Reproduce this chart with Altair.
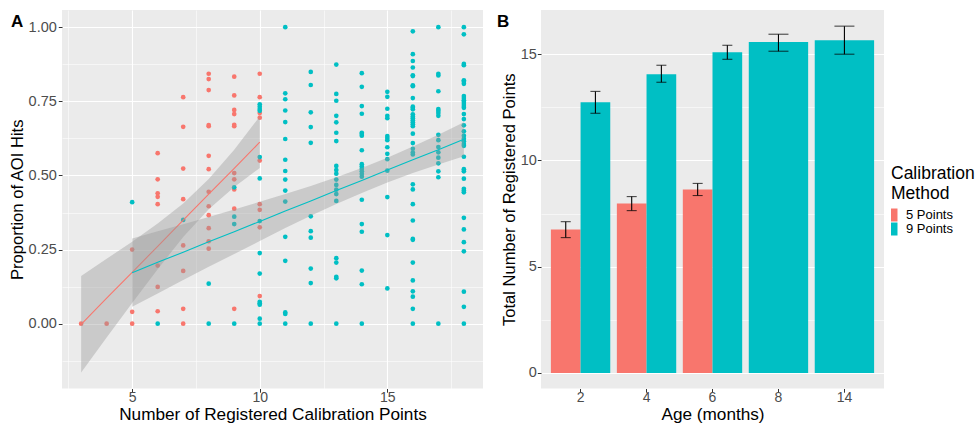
import altair as alt
import pandas as pd

FONT = "Liberation Sans"
RED = "#F8766D"
TEAL = "#00BFC4"
METHODS = ["5 Points", "9 Points"]

# ---------------- Panel A data ----------------
five_pt_hits = {
    3: [0.0],
    4: [0.0],
    5: [0.25, 0.04, 0.0],
    6: [0.575, 0.487, 0.44, 0.428, 0.403, 0.196, 0.124, 0.042],
    7: [0.764, 0.664, 0.523, 0.42, 0.264, 0.178, 0.05, 0.0],
    8: [0.843, 0.825, 0.788, 0.67, 0.666, 0.566, 0.521, 0.445, 0.396, 0.366, 0.322, 0.278, 0.253],
    9: [0.833, 0.77, 0.721, 0.707, 0.671, 0.666, 0.508, 0.487, 0.453, 0.388, 0.05],
    10: [0.843, 0.764, 0.711, 0.695, 0.55, 0.403, 0.384, 0.325, 0.093],
}
nine_pt_hits = {
    5: [0.41],
    6: [0.0],
    7: [0.35],
    8: [0.135, 0.0],
    9: [0.46, 0.361, 0.336, 0.0],
    10: [0.74, 0.732, 0.724, 0.718, 0.562, 0.49, 0.346, 0.238, 0.169, 0.074, 0.069, 0.064, 0.017, 0.0],
    11: [1.0, 0.777, 0.757, 0.719, 0.68, 0.623, 0.553, 0.515, 0.486, 0.449, 0.412, 0.293, 0.212, 0.038, 0.033, 0.0],
    12: [0.849, 0.805, 0.713, 0.663, 0.61, 0.362, 0.312, 0.29, 0.186, 0.137, 0.0],
    13: [0.874, 0.775, 0.752, 0.701, 0.679, 0.644, 0.616, 0.532, 0.518, 0.506, 0.486, 0.468, 0.452,
         0.437, 0.414, 0.221, 0.206, 0.158, 0.153, 0.0],
    14: [0.845, 0.799, 0.734, 0.708, 0.644, 0.64, 0.634, 0.585, 0.538, 0.53, 0.522, 0.514, 0.505,
         0.496, 0.418, 0.336, 0.31, 0.179, 0.133, 0.0],
    15: [0.782, 0.765, 0.725, 0.701, 0.693, 0.633, 0.626, 0.619, 0.595, 0.573, 0.555, 0.516, 0.427,
         0.299, 0.119],
    16: [0.986, 0.909, 0.886, 0.864, 0.838, 0.835, 0.804, 0.801, 0.761, 0.732, 0.728, 0.723, 0.706,
         0.699, 0.693, 0.686, 0.679, 0.673, 0.666, 0.641, 0.609, 0.59, 0.577, 0.571, 0.47, 0.453,
         0.403, 0.348, 0.286, 0.283, 0.206, 0.146, 0.109, 0.091, 0.05, 0.0],
    17: [1.0, 0.843, 0.837, 0.784, 0.724, 0.718, 0.711, 0.701, 0.637, 0.619, 0.596, 0.578, 0.56,
         0.541, 0.514, 0.494, 0.0],
    18: [1.0, 0.976, 0.876, 0.872, 0.821, 0.816, 0.809, 0.768, 0.761, 0.754, 0.748, 0.741, 0.734,
         0.728, 0.707, 0.69, 0.669, 0.649, 0.634, 0.624, 0.615, 0.606, 0.6, 0.563, 0.521, 0.514,
         0.489, 0.455, 0.449, 0.443, 0.357, 0.318, 0.275, 0.244, 0.108, 0.057, 0.0],
}

# linear fits and confidence bands
fit5_x = [3, 4, 5, 6, 7, 8, 9, 10]
fit5_y = [-0.002, 0.086, 0.173, 0.261, 0.349, 0.437, 0.524, 0.612]
fit5_lo = [-0.165, -0.047, 0.070, 0.184, 0.292, 0.386, 0.461, 0.525]
fit5_hi = [0.161, 0.219, 0.276, 0.338, 0.405, 0.488, 0.587, 0.699]

fit9_x = [5, 6, 7, 8, 9, 10, 11, 12, 13, 14, 15, 16, 17, 18]
fit9_y = [0.172, 0.207, 0.241, 0.276, 0.310, 0.345, 0.380, 0.414, 0.449, 0.483, 0.518, 0.553, 0.587, 0.622]
fit9_lo = [0.057, 0.102, 0.147, 0.192, 0.235, 0.279, 0.323, 0.364, 0.404, 0.441, 0.476, 0.508, 0.537, 0.565]
fit9_hi = [0.287, 0.312, 0.335, 0.360, 0.385, 0.411, 0.437, 0.464, 0.494, 0.525, 0.560, 0.598, 0.637, 0.679]

# ---------------- Panel B data ----------------
ages = ["2", "4", "6", "8", "14"]
five_ages = ["2", "4", "6"]
five_mean = [6.75, 7.97, 8.63]
five_lo = [6.37, 7.64, 8.35]
five_hi = [7.12, 8.30, 8.92]
nine_mean = [12.74, 14.06, 15.09, 15.57, 15.66]
nine_lo = [12.22, 13.68, 14.76, 15.14, 15.00]
nine_hi = [13.25, 14.48, 15.42, 15.94, 16.32]

# ---------------- frames ----------------
rows = []
for method, table in (("5 Points", five_pt_hits), ("9 Points", nine_pt_hits)):
    for x, ys in table.items():
        for y in ys:
            rows.append({"points": x, "hits": y, "method": method})
scatter_df = pd.DataFrame(rows)
fit5_df = pd.DataFrame({"points": fit5_x, "fit": fit5_y, "lo": fit5_lo, "hi": fit5_hi})
fit9_df = pd.DataFrame({"points": fit9_x, "fit": fit9_y, "lo": fit9_lo, "hi": fit9_hi})

grouped_rows = []
for i, a in enumerate(five_ages):
    grouped_rows.append({"age": a, "method": "5 Points", "mean": five_mean[i], "lo": five_lo[i], "hi": five_hi[i]})
    grouped_rows.append({"age": a, "method": "9 Points", "mean": nine_mean[i], "lo": nine_lo[i], "hi": nine_hi[i]})
grouped_df = pd.DataFrame(grouped_rows)
single_df = pd.DataFrame({
    "age": ages[3:], "method": ["9 Points"] * 2,
    "mean": nine_mean[3:], "lo": nine_lo[3:], "hi": nine_hi[3:],
})

# ---------------- styling helpers ----------------
LABEL_COLOR = "#4D4D4D"
PLOT_H = 378.5


def axis_common(**kw):
    base = dict(
        domain=False, labelFont=FONT, titleFont=FONT, labelFontSize=14, titleFontSize=17.2,
        labelColor=LABEL_COLOR, titleColor="#000000", titleFontWeight="normal",
        tickColor="#333333", tickSize=3.7, tickWidth=1, gridColor="#FFFFFF",
    )
    base.update(kw)
    return alt.Axis(**base)


color_scale = alt.Scale(domain=METHODS, range=[RED, TEAL])

# ---------------- Panel A ----------------
x_a = alt.X(
    "points:Q",
    scale=alt.Scale(domain=[2.25, 18.75], nice=False, zero=False),
    axis=axis_common(
        title="Number of Registered Calibration Points",
        values=[2.5, 5, 7.5, 10, 12.5, 15, 17.5],
        labelExpr="datum.value % 5 === 0 ? datum.label : ''",
        gridWidth={"condition": {"test": "datum.value % 5 !== 0", "value": 0.55}, "value": 1.1},
        tickOpacity={"condition": {"test": "datum.value % 5 !== 0", "value": 0}, "value": 1},
        labelPadding=-2, titlePadding=1,
    ),
)
minor_a = "abs(datum.value * 4 - round(datum.value * 4)) > 0.01"
y_a_scale = alt.Scale(domain=[-0.2186, 1.058], nice=False, zero=False)
y_a = alt.Y(
    "hits:Q",
    scale=y_a_scale,
    axis=axis_common(
        title="Proportion of AOI Hits",
        titleFontSize=16.6,
        labelFontSize=14.5,
        values=[-0.125, 0, 0.125, 0.25, 0.375, 0.5, 0.625, 0.75, 0.875, 1.0],
        format=".2f",
        labelExpr=f"{minor_a} ? '' : datum.label",
        gridWidth={"condition": {"test": minor_a, "value": 0.55}, "value": 1.1},
        tickOpacity={"condition": {"test": minor_a, "value": 0}, "value": 1},
        labelPadding=2, titlePadding=3,
    ),
)

points = alt.Chart(scatter_df).mark_circle(size=22, opacity=1).encode(
    x=x_a, y=y_a, color=alt.Color("method:N", scale=color_scale, legend=None)
)


def band(df):
    return alt.Chart(df).mark_area(color="#999999", opacity=0.4).encode(
        x="points:Q", y=alt.Y("lo:Q"), y2="hi:Q"
    )


def fit_line(df, col):
    return alt.Chart(df).mark_line(color=col, strokeWidth=1.1).encode(x="points:Q", y="fit:Q")


label_a = alt.Chart(pd.DataFrame({"t": ["A"]})).mark_text(
    font=FONT, fontSize=17, fontWeight="bold", align="left", baseline="alphabetic", color="#000000"
).encode(x=alt.value(-51), y=alt.value(17), text="t:N")

panel_a = alt.layer(
    points, band(fit5_df), fit_line(fit5_df, RED), band(fit9_df), fit_line(fit9_df, TEAL), label_a
).properties(width=421, height=PLOT_H)

# ---------------- Panel B ----------------
x_b = alt.X(
    "age:N",
    sort=ages,
    scale=alt.Scale(domain=ages, paddingInner=0.1, paddingOuter=0.15),
    axis=axis_common(title="Age (months)", labelAngle=0, bandPosition=0.5, gridWidth=1.1,
                     labelPadding=-2, titlePadding=1),
)
minor_b = "datum.value % 5 !== 0"
y_b_scale = alt.Scale(domain=[-0.73, 17.08], nice=False, zero=False)
y_b = alt.Y(
    "mean:Q",
    scale=y_b_scale,
    axis=axis_common(
        title="Total Number of Registered Points",
        titleFontSize=16.6,
        labelFontSize=14.5,
        values=[0, 2.5, 5, 7.5, 10, 12.5, 15],
        labelExpr=f"{minor_b} ? '' : datum.label",
        gridWidth={"condition": {"test": minor_b, "value": 0.55}, "value": 1.1},
        tickOpacity={"condition": {"test": minor_b, "value": 0}, "value": 1},
        labelPadding=1, titlePadding=3,
    ),
)
x_off = alt.XOffset("method:N", scale=alt.Scale(domain=METHODS, paddingInner=0, paddingOuter=0))
color_b = alt.Color(
    "method:N",
    scale=color_scale,
    legend=alt.Legend(
        title=["Calibration", "Method"], orient="none", legendX=350, legendY=155,
        titleFont=FONT, titleFontSize=17.5, titleFontWeight="normal", titleColor="#000000",
        titleLineHeight=20, titlePadding=6,
        labelFont=FONT, labelFontSize=13, labelColor="#000000", labelOffset=2,
        symbolType="M-1,-1H0V1H-1Z", symbolSize=169, symbolStrokeWidth=0,
        symbolOpacity=1, rowPadding=0, padding=0,
    ),
)

bars_grouped = alt.Chart(grouped_df).mark_bar().encode(x=x_b, xOffset=x_off, y=y_b, color=color_b)
bars_single = alt.Chart(single_df).mark_bar().encode(x=x_b, y="mean:Q", color=color_b)

err_kw = dict(color="#000000")
rule_grouped = alt.Chart(grouped_df).mark_rule(strokeWidth=1.1, **err_kw).encode(
    x=x_b, xOffset=x_off, y="lo:Q", y2="hi:Q"
)
cap_lo_g = alt.Chart(grouped_df).mark_tick(size=10, thickness=1.1, **err_kw).encode(x=x_b, xOffset=x_off, y="lo:Q")
cap_hi_g = alt.Chart(grouped_df).mark_tick(size=10, thickness=1.1, **err_kw).encode(x=x_b, xOffset=x_off, y="hi:Q")
rule_single = alt.Chart(single_df).mark_rule(strokeWidth=1.1, **err_kw).encode(x=x_b, y="lo:Q", y2="hi:Q")
cap_lo_s = alt.Chart(single_df).mark_tick(size=20, thickness=1.1, **err_kw).encode(x=x_b, y="lo:Q")
cap_hi_s = alt.Chart(single_df).mark_tick(size=20, thickness=1.1, **err_kw).encode(x=x_b, y="hi:Q")

label_b = alt.Chart(pd.DataFrame({"t": ["B"]})).mark_text(
    font=FONT, fontSize=17, fontWeight="bold", align="left", baseline="alphabetic", color="#000000"
).encode(x=alt.value(-44), y=alt.value(17), text="t:N")

panel_b = alt.layer(
    bars_grouped, bars_single, rule_grouped, cap_lo_g, cap_hi_g, rule_single, cap_lo_s, cap_hi_s, label_b
).properties(width=343, height=PLOT_H)

chart = (
    alt.hconcat(panel_a, panel_b, spacing=14)
    .resolve_scale(color="independent")
    .resolve_legend(color="independent")
    .properties(padding={"left": 9, "top": 10, "right": 0, "bottom": 0}, background="#FFFFFF")
    .configure_view(fill="#EBEBEB", stroke=None)
)

chart.save("out.html", embed_options={"renderer": "svg", "actions": False})
